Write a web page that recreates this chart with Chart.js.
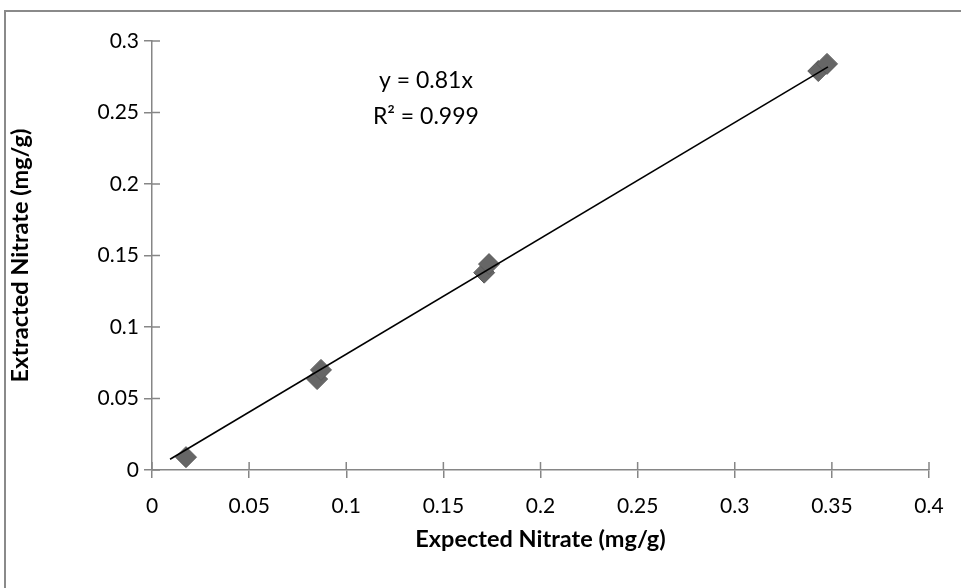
<!DOCTYPE html>
<html>
<head>
<meta charset="utf-8">
<script src="https://cdn.jsdelivr.net/npm/chart.js@4.4.1/dist/chart.umd.min.js"></script>
<style>
  html, body { margin: 0; padding: 0; background: #fff; overflow: hidden; }
  #frame {
    position: absolute; left: 4px; top: 10px; width: 2000px; height: 2000px;
    border-left: 2px solid #8a8a8a; border-top: 2px solid #8a8a8a;
  }
  #wrap { position: absolute; left: 0; top: 0; width: 961px; height: 588px; }
</style>
</head>
<body>
<div id="frame"></div>
<div id="wrap"><canvas id="chartNitrate" width="961" height="588"></canvas></div>
<script>
// --- Datos: nitrato esperado vs. extraído ---
const expectedNitrate = [0.0175, 0.085, 0.087, 0.171, 0.1735, 0.343, 0.3475];
const extractedNitrate = [0.009, 0.0636, 0.070, 0.138, 0.144, 0.279, 0.284];

// Línea de tendencia y = 0.81x
const trendSlope = 0.81;
const trendRange = [0.0093, 0.348];
const trendLabel = ['y = 0.81x', 'R\u00b2 = 0.999'];
const trendLabelAt = [0.141, 0.2600];

const xTicks = [0, 0.05, 0.1, 0.15, 0.2, 0.25, 0.3, 0.35, 0.4];
const yTicks = [0, 0.05, 0.1, 0.15, 0.2, 0.25, 0.3];

const axisGrey = '#868686';
const font = 'Lato';

// marcas de graduación que cruzan el eje (hacia adentro)
const crossTicks = {
    id: 'crossTicks',
    afterDraw(chart) {
        const { ctx, chartArea, scales } = chart;
        ctx.save();
        ctx.strokeStyle = axisGrey;
        ctx.lineWidth = 1.5;
        ctx.beginPath();
        xTicks.forEach(v => {
            const px = scales.x.getPixelForValue(v);
            ctx.moveTo(px, chartArea.bottom);
            ctx.lineTo(px, chartArea.bottom - 8);
        });
        yTicks.forEach(v => {
            const py = scales.y.getPixelForValue(v);
            ctx.moveTo(chartArea.left, py);
            ctx.lineTo(chartArea.left + 8, py);
        });
        ctx.stroke();
        ctx.restore();
    }
};

// etiqueta de la ecuación
const equationLabel = {
    id: 'equationLabel',
    afterDatasetsDraw(chart) {
        const { ctx, scales } = chart;
        const px = scales.x.getPixelForValue(trendLabelAt[0]);
        const py = scales.y.getPixelForValue(trendLabelAt[1]);
        ctx.save();
        ctx.fillStyle = '#000';
        ctx.font = '23px ' + font;
        ctx.textAlign = 'center';
        ctx.textBaseline = 'middle';
        ctx.fillText(trendLabel[0], px, py - 18);
        ctx.fillText(trendLabel[1], px, py + 18);
        ctx.restore();
    }
};

document.fonts.load('21px Lato').then(() => document.fonts.load('bold 21px Lato')).then(drawChart, drawChart);

function drawChart() {
    new Chart(document.getElementById('chartNitrate'), {
        type: 'scatter',
        data: {
            datasets: [
                {
                    label: 'Trend',
                    type: 'line',
                    data: trendRange.map(x => ({ x: x, y: trendSlope * x })),
                    borderColor: '#000',
                    borderWidth: 1.6,
                    pointRadius: 0,
                    fill: false,
                    order: 0
                },
                {
                    label: 'Extracted',
                    data: expectedNitrate.map((x, i) => ({ x: x, y: extractedNitrate[i] })),
                    pointStyle: 'rectRot',
                    pointRadius: 10.5,
                    backgroundColor: '#666666',
                    borderColor: '#5a5a5a',
                    borderWidth: 1,
                    order: 1
                }
            ]
        },
        options: {
            responsive: false,
            animation: false,
            layout: { padding: { left: 0, top: 41, right: 32, bottom: 34 } },
            plugins: {
                legend: { display: false },
                tooltip: { enabled: false }
            },
            scales: {
                x: {
                    type: 'linear',
                    min: 0, max: 0.4,
                    afterBuildTicks: s => { s.ticks = xTicks.map(v => ({ value: v })); },
                    afterFit: s => { s.height = 84; },
                    grid: { drawOnChartArea: false, drawTicks: true, tickLength: 8, color: axisGrey, lineWidth: 1.5 },
                    border: { color: axisGrey, width: 1.5 },
                    ticks: { color: '#000', font: { family: font, size: 21 }, padding: 16, maxRotation: 0, callback: v => String(v) },
                    title: { display: true, text: 'Expected Nitrate (mg/g)', color: '#000', font: { family: font, size: 23.5, weight: 'bold' }, padding: { top: 8, bottom: 0 } }
                },
                y: {
                    type: 'linear',
                    min: 0, max: 0.3,
                    afterBuildTicks: s => { s.ticks = yTicks.map(v => ({ value: v })); },
                    afterFit: s => { s.width = 152; },
                    grid: { drawOnChartArea: false, drawTicks: true, tickLength: 8, color: axisGrey, lineWidth: 1.5 },
                    border: { color: axisGrey, width: 1.5 },
                    ticks: { color: '#000', font: { family: font, size: 21 }, padding: 5, callback: v => String(v) },
                    title: { display: true, text: 'Extracted Nitrate (mg/g)', color: '#000', font: { family: font, size: 23.5, weight: 'bold' }, padding: { top: 6, bottom: 0 } }
                }
            }
        },
        plugins: [crossTicks, equationLabel]
    });
}
</script>
</body>
</html>
